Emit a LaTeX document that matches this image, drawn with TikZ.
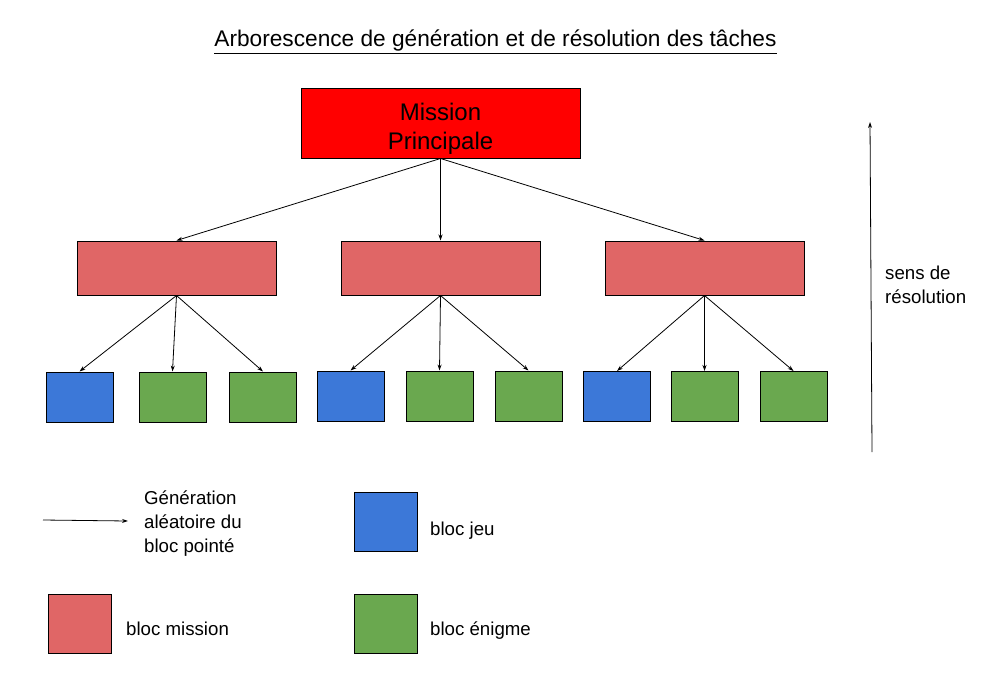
\documentclass[tikz,border=0pt]{standalone}
\usepackage{fontspec}
\setmainfont{Liberation Sans}
\usetikzlibrary{arrows.meta,positioning}

\definecolor{missionred}{HTML}{E06666}
\definecolor{jeublue}{HTML}{3C78D8}
\definecolor{enigmegreen}{HTML}{6AA84F}

\begin{document}
\begin{tikzpicture}[
  x=1pt, y=-1pt,
  mission/.style={draw, line width=1pt, fill=missionred, minimum width=199pt, minimum height=54pt},
  tache/.style={draw, line width=1pt, minimum width=67pt, minimum height=50pt},
  jeu/.style={tache, fill=jeublue},
  enigme/.style={tache, fill=enigmegreen},
  carre/.style={draw, line width=1pt, minimum width=63pt, minimum height=59pt},
  arrow/.style={-{Stealth[length=6pt,width=4pt]}, line width=0.8pt},
  legende/.style={font=\fontsize{18.67}{24}\selectfont, align=left, anchor=west, inner sep=0pt}
]
\useasboundingbox (0,0) rectangle (992,672);

\node[font=\fontsize{22.67}{27}\selectfont] (titre) at (495.5,42)
  {\underline{Arborescence de génération et de résolution des tâches}};

\node[draw, line width=1pt, fill=red, minimum width=279pt, minimum height=70pt] (principale) at (440.5,123) {};
\node[align=center, font=\fontsize{24}{29}\selectfont] (principaletxt) at (440.5,129) {Mission\\Principale};

\foreach \n/\x in {m1/176.5, m2/440.5, m3/704.5} {
  \node[mission] (\n) at (\x,268) {};
}

\foreach \n/\x/\y in {b1/79.5/397, b2/350.5/396, b3/617/396.5} {
  \node[jeu] (\n) at (\x,\y) {};
}
\foreach \n/\x/\y in {g1/172.5/397, g2/263/397, g3/439.5/396, g4/528.5/396, g5/704.5/396.5, g6/793.5/396.5} {
  \node[enigme] (\n) at (\x,\y) {};
}

\foreach \m in {m1,m2,m3} {
  \draw[arrow] (principale.south) -- (\m.north);
}
\foreach \b in {b1,g1,g2} \draw[arrow] (m1.south) -- (\b.north);
\foreach \b in {b2,g3,g4} \draw[arrow] (m2.south) -- (\b.north);
\foreach \b in {b3,g5,g6} \draw[arrow] (m3.south) -- (\b.north);

% sens de resolution
\coordinate (basres) at (872,452);
\coordinate (hautres) at (870,122);
\draw[arrow] (basres) -- (hautres);
\node[legende] (sens) at (885,284.5) {sens de\\résolution};

% legende
\coordinate (flechea) at (43,520);
\coordinate (flecheb) at (128,521);
\draw[arrow] (flechea) -- (flecheb);
\node[legende] (txtfleche) at (144,524) {Génération\\aléatoire du\\bloc pointé};

\node[carre, fill=missionred] (legmission) at (79.5,623.5) {};
\node[legende] (txtmission) at (126,629) {bloc mission};

\node[carre, fill=jeublue] (legjeu) at (385.5,521.5) {};
\node[legende] (txtjeu) at (430,531) {bloc jeu};

\node[carre, fill=enigmegreen] (legenigme) at (385.5,623.5) {};
\node[legende] (txtenigme) at (430,631) {bloc énigme};

\end{tikzpicture}
\end{document}
